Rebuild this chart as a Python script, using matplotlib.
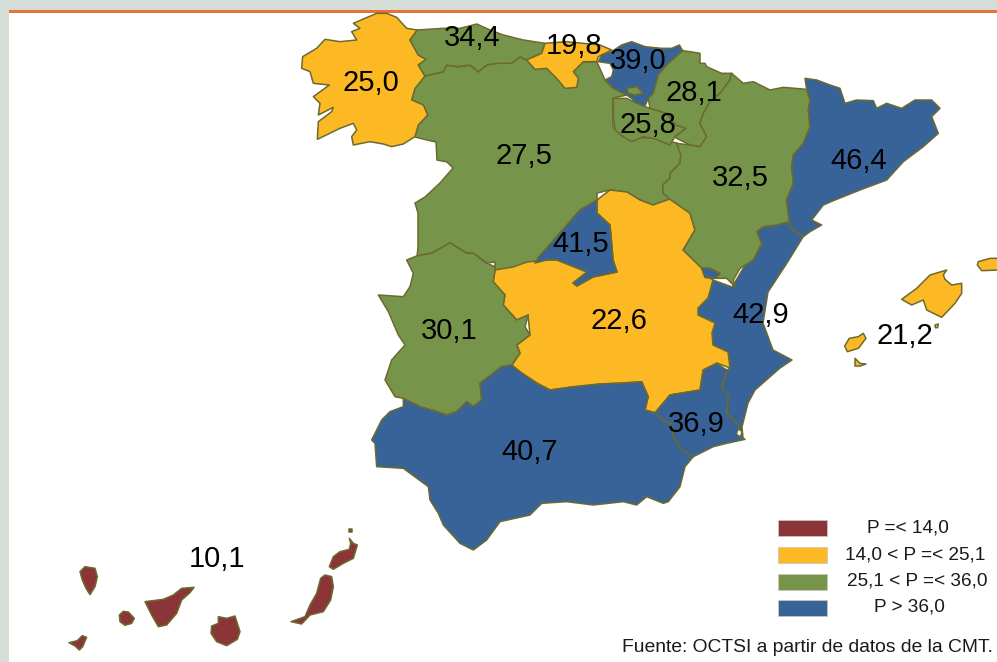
import matplotlib
matplotlib.use('Agg')
from matplotlib import pyplot as plt
from matplotlib.patches import Polygon, Rectangle

plt.rcParams['font.family'] = ['Liberation Sans', 'DejaVu Sans']

# values per region, same order as the label positions below
regions = ['Galicia', 'Asturias', 'Cantabria', 'Pais Vasco', 'Navarra', 'La Rioja', 'Castilla y Leon',
           'Aragon', 'Cataluna', 'Madrid', 'C. Valenciana', 'Baleares', 'Castilla-La Mancha',
           'Extremadura', 'Murcia', 'Andalucia', 'Canarias']
values = [25.0, 34.4, 19.8, 39.0, 28.1, 25.8, 27.5, 32.5, 46.4, 41.5, 42.9, 21.2, 22.6, 30.1, 36.9, 40.7, 10.1]
label_x = [371, 472, 574, 638, 694, 648, 524, 740, 859, 581, 761, 905, 619, 449, 696, 530, 217]
label_y = [83, 38, 46, 61, 93, 125, 156, 178, 161, 244, 315, 336, 321, 331, 424, 452, 559]

thresholds = [14.0, 25.1, 36.0]
class_colors = ['#8b3538', '#fdb924', '#76954b', '#376399']
legend_labels = ['P =< 14,0', '14,0 < P =< 25,1', '25,1 < P =< 36,0', 'P > 36,0']
source = 'Fuente: OCTSI a partir de datos de la CMT.'
edge = '#6c6a2e'


# outlines were traced on crops of the picture, these put them back in image pixels
def z1(pts):
    return [(290 + x / 3, y / 3) for x, y in pts]

def z2(pts):
    return [(590 + x / 3, 30 + y / 3) for x, y in pts]

def z3(pts):
    return [(360 + x / 3, 230 + y / 3) for x, y in pts]

def z4(pts):
    return [(x / 3, 520 + y / 3) for x, y in pts]

def z5(pts):
    return [(760 + x / 3, 240 + y / 3) for x, y in pts]


galicia = z1([(260,40),(290,40),(320,52),(350,85),(382,90),(360,120),(385,165),(408,178),(385,195),(405,228),
              (375,265),(365,300),(400,315),(413,345),(385,375),(375,410),(340,432),(305,440),(280,432),(240,425),
              (190,435),(185,410),(200,390),(190,370),(150,385),(82,418),(85,365),(125,335),(130,322),(85,345),
              (90,310),(70,290),(118,255),(70,250),(60,215),(35,205),(38,170),(80,145),(105,118),(150,125),
              (200,120),(185,95),(210,85),(190,70)])
asturias = z1([(382,90),(460,85),(510,85),(560,72),(600,90),(640,105),(700,120),(765,130),(755,160),(710,180),
               (690,170),(665,190),(620,190),(590,195),(565,215),(540,195),(505,200),(470,195),(460,215),(405,228),
               (385,195),(408,178),(385,165),(360,120)])
cantabria = z1([(765,130),(830,125),(880,130),(930,135),(965,150),(925,170),(920,185),(880,185),(850,215),(865,235),
                (860,262),(825,265),(800,235),(770,205),(735,208),(710,180),(755,160)])
castilla_leon = [(425,76),(443,72),(447,65),(458,67),(470,65),(478,72),(487,65),(497,63),(512,63),(520,57),(527,60),
                 (535,69),(547,68),(557,78),(565,88),(577,87),(578,78),(573,72),(583,62),(597,62),(605,80),(613,88),
                 (627,95),(613,98),(613,127),(623,137),(653,138),(677,143),(681,155),(680,163),(670,173),(670,178),
                 (663,185),(663,193),(670,199),(653,205),(640,200),(627,192),(610,190),(597,193),(597,200),(580,210),
                 (560,233),(538,258),(537,264),(527,265),(513,270),(495,272),(495,262),(487,263),(473,253),(467,253),
                 (450,243),(432,253),(417,256),(418,248),(418,213),(415,203),(425,197),(440,183),(453,168),(447,162),
                 (437,160),(436,142),(427,140),(415,137),(418,125),(428,115),(423,105),(412,100),(415,88)]
pais_vasco = z2([(65,65),(95,45),(125,35),(165,50),(215,55),(245,55),(268,45),(278,62),(230,105),(205,135),(190,190),
                 (175,205),(165,228),(135,225),(128,208),(110,195),(70,175),(45,150),(65,140),(70,120),(60,100),
                 (25,95),(35,75)])
trevino = z2([(110,175),(140,170),(160,190),(135,195),(115,190)])
navarra = z2([(278,62),(300,65),(330,70),(330,100),(345,100),(350,110),(395,130),(425,130),(420,150),(390,190),
              (360,215),(340,250),(330,280),(350,320),(330,350),(300,345),(260,325),(255,320),(288,295),(258,285),
              (230,250),(180,235),(175,205),(190,190),(205,135),(230,105)])
rioja = z2([(70,205),(110,205),(130,215),(160,228),(180,235),(230,250),(258,285),(288,295),(255,320),(240,345),
            (190,325),(160,320),(125,335),(100,320),(75,300),(70,260)])
aragon = z2([(425,130),(460,160),(490,155),(540,180),(580,172),(650,178),(660,210),(655,240),(660,290),(640,340),
             (610,375),(605,410),(610,460),(590,510),(598,575),(560,585),(520,590),(500,605),(515,640),(490,690),
             (450,715),(430,750),(435,770),(410,745),(375,745),(390,730),(360,715),(335,715),(280,660),(315,600),
             (300,550),(240,508),(220,490),(218,465),(240,445),(240,430),(270,400),(272,375),(260,340),(300,345),
             (330,350),(350,320),(330,280),(340,250),(360,215),(390,190),(420,150)])
cataluna = z2([(645,145),(680,150),(720,165),(750,175),(765,220),(800,210),(850,212),(860,235),(890,220),(935,235),
               (975,210),(1025,210),(1050,235),(1025,260),(1045,310),(1000,350),(940,395),(890,450),(810,480),
               (735,510),(700,525),(665,570),(695,585),(660,605),(640,620),(598,590),(598,575),(590,510),(610,460),
               (605,410),(610,375),(640,340),(660,290),(655,240),(660,210),(650,178)])
valencia = [(803,237),(787,263),(768,292),(763,323),(773,350),(792,360),(780,368),(755,390),(748,403),(742,427),
            (743,438),(737,433),(740,427),(727,413),(728,397),(722,387),(727,370),(730,368),(728,352),(713,345),
            (712,333),(715,323),(698,315),(698,308),(708,298),(713,280),(732,287),(747,262),(762,245),(757,232),
            (763,227),(777,225),(789,222),(789,227)]
ademuz = z2([(335,715),(360,715),(390,730),(375,745),(345,742)])
madrid = [(597,200),(597,213),(610,225),(612,247),(613,260),(617,272),(593,277),(577,286),(573,283),(587,272),
          (557,260),(547,260),(535,263),(538,258),(560,233),(580,210)]
mancha = [(670,199),(690,213),(695,230),(683,250),(702,268),(710,278),(713,280),(708,298),(698,308),(698,315),
          (715,323),(712,333),(713,345),(728,352),(730,368),(717,363),(703,370),(700,390),(670,395),(655,413),
          (645,410),(648,397),(642,382),(620,383),(600,384),(573,387),(550,390),(537,383),(520,372),(512,365),
          (520,353),(517,345),(530,335),(528,315),(517,320),(503,305),(505,295),(493,282),(495,270),(513,267),
          (527,262),(547,260),(557,260),(587,272),(573,283),(577,286),(593,277),(617,272),(613,260),(612,247),
          (610,225),(597,213),(597,200),(610,190),(627,192),(640,200),(653,205)]
extremadura = z3([(270,38),(320,70),(340,70),(380,100),(405,110),(405,120),(400,155),(435,195),(430,225),(470,270),
                  (505,255),(495,290),(510,315),(470,345),(480,370),(455,405),(425,410),(360,460),(365,510),(340,530),
                  (320,515),(290,545),(260,555),(215,540),(180,530),(130,505),(105,500),(75,450),(95,390),(135,345),
                  (115,315),(85,245),(55,195),(130,200),(150,170),(160,130),(140,90),(170,78),(215,70)])
andalucia = z3([(455,405),(480,425),(530,460),(570,480),(640,470),(720,462),(780,460),(845,455),(865,500),(855,540),
                (885,548),(915,575),(935,580),(940,620),(965,660),(1000,680),(975,710),(960,770),(925,815),(910,820),
                (860,800),(830,825),(790,815),(700,825),(620,815),(545,820),(510,855),(420,875),(380,930),(340,960),
                (300,940),(250,885),(235,850),(210,810),(205,770),(130,715),(50,710),(45,640),(35,630),(65,570),
                (90,545),(130,530),(130,505),(180,530),(215,540),(260,555),(290,545),(320,515),(340,530),(365,510),
                (360,460),(425,410)])
murcia = z3([(885,548),(930,495),(1020,480),(1030,420),(1070,400),(1100,420),(1085,470),(1105,500),(1100,550),
             (1140,590),(1130,610),(1155,628),(1100,640),(1060,650),(1000,680),(965,660),(940,620),(935,580),(915,575)])
mar_menor = z3([(1135,598),(1145,605),(1141,620),(1130,612)])
mallorca = z5([(560,90),(550,105),(555,118),(575,135),(605,130),(605,160),(585,190),(545,232),(500,210),(490,180),
               (455,195),(425,178),(470,145),(510,105)])
menorca = z5([(655,65),(690,55),(720,55),(720,90),(665,92),(652,75)])
ibiza = z5([(268,295),(295,290),(310,280),(318,295),(295,325),(262,335),(254,318)])
formentera = z5([(285,355),(300,370),(318,372),(300,378),(285,378)])
cabrera = z5([(525,255),(535,252),(533,263),(526,263)])
la_palma = z4([(240,155),(255,140),(285,145),(292,170),(285,200),(270,224),(258,205),(247,180)])
el_hierro = z4([(207,368),(232,362),(247,347),(260,352),(248,380),(238,390),(225,378)])
la_gomera = z4([(358,285),(370,274),(385,276),(403,295),(395,310),(375,316),(360,305)])
tenerife = z4([(435,245),(490,238),(520,225),(545,205),(582,202),(570,218),(545,240),(530,280),(500,315),(475,320),(455,285)])
gran_canaria = z4([(655,290),(680,295),(705,288),(712,310),(720,335),(712,358),(680,377),(650,365),(633,340),(635,318),(655,310)])
fuerteventura = z4([(962,175),(975,165),(995,170),(1000,200),(992,240),(970,275),(930,285),(905,312),(873,305),(915,290),(930,255),(950,220)])
lanzarote = z4([(1048,55),(1060,70),(1072,75),(1060,115),(1030,130),(1000,148),(988,140),(1000,110),(1020,95),(1048,88),(1052,70)])
alegranza = z4([(1048,28),(1056,28),(1056,37),(1048,37)])

# shapes of each region, painted in this order so shared borders stay on top
shapes = [('Castilla y Leon', castilla_leon), ('Galicia', galicia), ('Asturias', asturias), ('Cantabria', cantabria),
          ('C. Valenciana', valencia), ('Castilla-La Mancha', mancha), ('C. Valenciana', ademuz),
          ('Madrid', madrid), ('Pais Vasco', pais_vasco), ('Castilla y Leon', trevino), ('La Rioja', rioja),
          ('Navarra', navarra), ('Aragon', aragon), ('C. Valenciana', ademuz), ('Cataluna', cataluna),
          ('Extremadura', extremadura), ('Andalucia', andalucia), ('Murcia', murcia), ('Baleares', mallorca),
          ('Baleares', menorca), ('Baleares', ibiza), ('Baleares', formentera), ('Baleares', cabrera),
          ('Canarias', la_palma), ('Canarias', el_hierro), ('Canarias', la_gomera), ('Canarias', tenerife),
          ('Canarias', gran_canaria), ('Canarias', fuerteventura), ('Canarias', lanzarote), ('Canarias', alegranza)]


def class_color(v):
    for limit, col in zip(thresholds, class_colors):
        if v <= limit:
            return col
    return class_colors[-1]


fig = plt.figure(figsize=(9.97, 6.62), dpi=100, facecolor='white')
ax = fig.add_axes([0, 0, 1, 1])
ax.set_xlim(0, 997)
ax.set_ylim(662, 0)
ax.axis('off')

# slide frame
ax.add_patch(Rectangle((0, 0), 997, 10, facecolor='#d4ddd6', edgecolor='none'))
ax.add_patch(Rectangle((0, 0), 8.5, 662, facecolor='#d4ddd6', edgecolor='none'))
ax.add_patch(Rectangle((8.5, 10), 989, 2.5, facecolor='#e8703a', edgecolor='none'))

for name, pts in shapes:
    col = class_color(values[regions.index(name)])
    ax.add_patch(Polygon(pts, closed=True, facecolor=col, edgecolor=edge, linewidth=1.1, joinstyle='round'))
ax.add_patch(Polygon(mar_menor, closed=True, facecolor='white', edgecolor=edge, linewidth=0.7))

for x, y, v in zip(label_x, label_y, values):
    ax.text(x, y, ('%.1f' % v).replace('.', ','), fontsize=21, color='black', ha='center', va='center')

# legend
legend_top = [520, 547, 574, 600]
legend_text_x = [908, 915, 917, 909]
legend_text_y = [528, 555, 581, 607]
for top, col, lab, tx, ty in zip(legend_top, class_colors, legend_labels, legend_text_x, legend_text_y):
    ax.add_patch(Rectangle((778, top), 49, 16, facecolor=col, edgecolor='#c9c9b8', linewidth=0.6))
    ax.text(tx, ty, lab, fontsize=13.7, color='#1a1a1a', ha='center', va='center')
ax.text(622, 647, source, fontsize=13.9, color='#1a1a1a', ha='left', va='center')

fig.savefig('out.png', dpi=100)
